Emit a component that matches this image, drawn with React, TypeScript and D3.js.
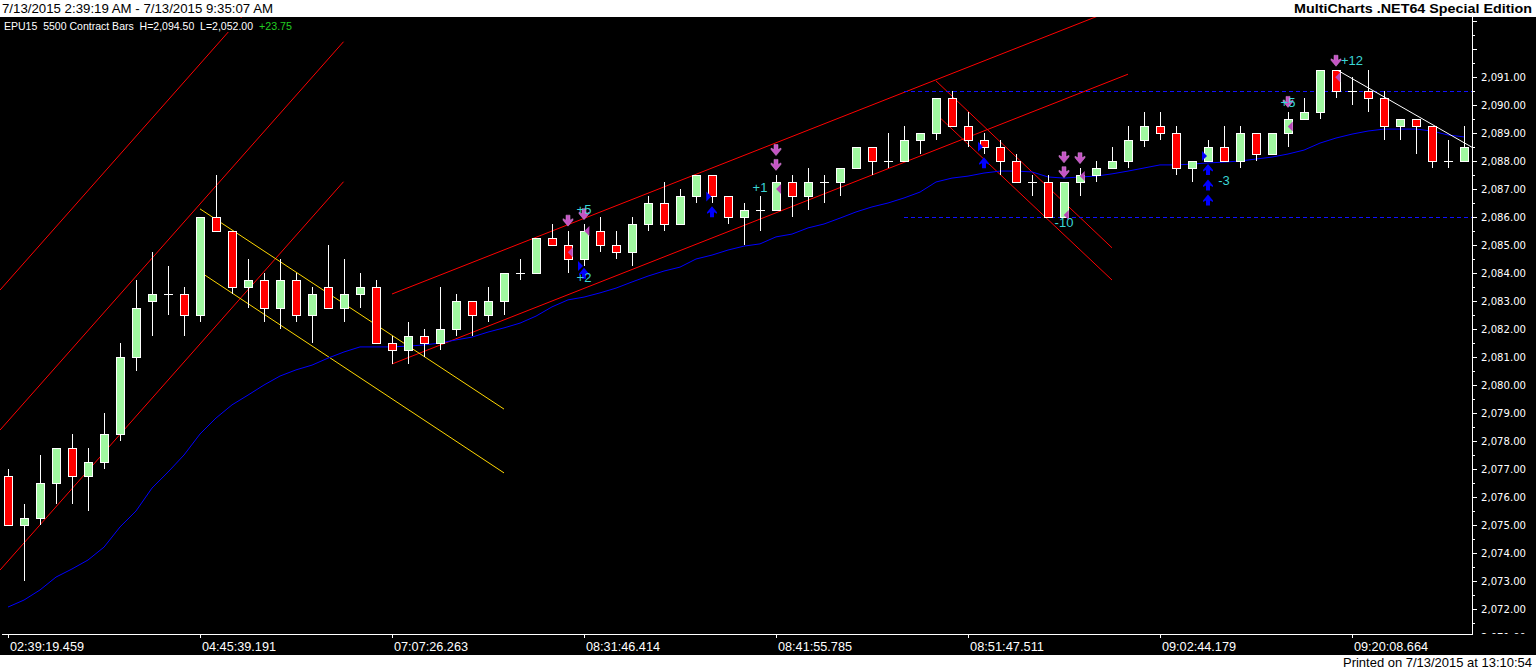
import React from "react";
import * as d3 from "d3";

// ---- data ----
const opens = [2076.75,2075.0,2075.25,2076.5,2077.75,2076.75,2077.25,2078.25,2081.0,2083.0,2083.25,2083.25,2082.5,2086.0,2085.5,2083.5,2083.75,2082.75,2083.75,2082.5,2083.5,2082.75,2083.25,2083.5,2081.5,2081.25,2081.75,2081.5,2082.0,2083.0,2082.5,2083.0,2084.0,2084.0,2085.25,2085.0,2084.5,2085.5,2085.0,2084.75,2085.75,2086.5,2085.75,2086.75,2087.5,2086.75,2086.0,2086.25,2086.25,2087.25,2086.75,2087.25,2087.25,2087.75,2088.5,2088.0,2088.0,2088.75,2089.0,2090.25,2089.25,2088.75,2088.5,2088.0,2087.25,2087.25,2086.0,2087.25,2087.5,2087.75,2088.0,2088.75,2089.25,2089.0,2087.75,2088.0,2088.5,2088.0,2089.0,2088.25,2089.0,2089.5,2089.75,2091.25,2090.5,2090.5,2090.25,2089.25,2089.5,2089.25,2088.0,2088.0];
const highs = [2077.0,2075.75,2077.5,2077.75,2078.25,2077.75,2079.0,2081.5,2083.75,2084.75,2084.25,2083.5,2086.0,2087.5,2085.5,2084.5,2084.0,2084.5,2084.0,2083.5,2085.0,2084.5,2084.0,2083.75,2081.75,2082.25,2082.0,2083.5,2083.25,2083.0,2083.5,2084.0,2084.5,2085.25,2085.75,2085.5,2085.75,2086.0,2085.5,2086.0,2086.75,2087.25,2087.0,2087.5,2087.5,2086.75,2086.5,2086.75,2087.5,2087.5,2087.75,2087.5,2087.75,2088.5,2088.5,2089.0,2089.25,2089.0,2090.25,2090.5,2089.75,2089.0,2088.75,2088.25,2087.5,2087.5,2087.25,2087.75,2088.0,2088.5,2089.25,2089.75,2089.75,2089.25,2088.0,2088.75,2089.25,2089.25,2089.0,2089.0,2089.75,2090.25,2091.25,2091.25,2091.0,2091.25,2090.5,2089.5,2089.5,2089.25,2088.75,2089.25];
const lows = [2075.0,2073.0,2075.0,2075.75,2075.75,2075.5,2077.0,2078.0,2080.5,2081.75,2082.5,2081.75,2082.25,2085.5,2083.25,2082.75,2082.25,2082.0,2082.25,2081.5,2082.75,2082.25,2082.75,2081.5,2080.75,2080.75,2081.0,2081.25,2081.75,2081.75,2082.25,2082.5,2083.75,2084.0,2085.0,2084.0,2084.25,2084.75,2084.5,2084.25,2085.5,2085.5,2085.75,2086.5,2086.5,2085.75,2085.0,2085.5,2086.25,2086.0,2086.25,2086.5,2086.75,2087.75,2087.5,2087.75,2088.0,2088.25,2088.75,2089.25,2088.5,2088.25,2087.5,2087.25,2086.75,2086.0,2086.0,2086.75,2087.25,2087.75,2087.75,2088.5,2088.75,2087.5,2087.25,2088.0,2088.0,2087.75,2088.0,2088.25,2088.5,2089.5,2089.5,2090.25,2090.0,2089.75,2088.75,2088.75,2088.25,2087.75,2087.75,2088.0];
const closes = [2075.0,2075.25,2076.5,2077.75,2076.75,2077.25,2078.25,2081.0,2082.75,2083.25,2083.25,2082.5,2086.0,2085.5,2083.5,2083.75,2082.75,2083.75,2082.5,2083.25,2082.75,2083.25,2083.5,2081.5,2081.25,2081.75,2081.5,2082.0,2083.0,2082.5,2083.0,2084.0,2084.0,2085.25,2085.0,2084.5,2085.5,2085.0,2084.75,2085.75,2086.5,2085.75,2086.75,2087.5,2086.75,2086.0,2086.25,2086.25,2087.25,2086.75,2087.25,2087.25,2087.75,2088.5,2088.0,2088.0,2088.75,2089.0,2090.25,2089.25,2088.75,2088.5,2088.0,2087.25,2087.25,2086.0,2087.25,2087.5,2087.75,2088.0,2088.75,2089.25,2089.0,2087.75,2088.0,2088.5,2088.0,2089.0,2088.25,2089.0,2089.5,2089.75,2091.25,2090.5,2090.5,2090.25,2089.25,2089.5,2089.25,2088.0,2088.0,2088.5];
const movingAvg = [2072.07,2072.32,2072.68,2073.14,2073.43,2073.75,2074.21,2074.93,2075.5,2076.32,2076.89,2077.5,2078.25,2078.82,2079.29,2079.64,2080.0,2080.32,2080.54,2080.71,2080.96,2081.18,2081.36,2081.36,2081.36,2081.39,2081.43,2081.5,2081.61,2081.71,2081.89,2082.04,2082.21,2082.46,2082.79,2083.04,2083.14,2083.29,2083.46,2083.68,2083.89,2084.07,2084.21,2084.5,2084.64,2084.82,2084.96,2085.04,2085.29,2085.39,2085.61,2085.75,2085.96,2086.18,2086.36,2086.5,2086.68,2086.89,2087.25,2087.39,2087.46,2087.57,2087.64,2087.64,2087.61,2087.43,2087.39,2087.43,2087.46,2087.54,2087.64,2087.75,2087.86,2087.86,2087.89,2087.93,2087.96,2088.0,2088.07,2088.14,2088.25,2088.39,2088.64,2088.82,2088.96,2089.07,2089.14,2089.14,2089.14,2089.07,2088.93,2088.86];

const timeLabels = ["02:39:19.459","04:45:39.191","07:07:26.263","08:31:46.414","08:41:55.785","08:51:47.511","09:02:44.179","09:20:08.664"];
const timeLabelBars = [0,12,24,36,48,60,72,84];
const priceLabels = d3.range(2071, 2092, 1);

// trend lines: [barStart, priceStart, barEnd, priceEnd]
const redLines: number[][] = [
  [-0.5, 2083.39, 20.97, 2097.26],
  [-0.5, 2078.39, 20.97, 2092.26],
  [-0.5, 2073.39, 20.97, 2087.26],
  [24, 2083.25, 70, 2093.6],
  [24, 2080.75, 70, 2091.1],
  [58, 2090.86, 69, 2084.9],
  [58, 2089.68, 69, 2083.75],
];
const yellowLines: number[][] = [
  [12, 2086.29, 31, 2079.14],
  [12, 2084.04, 31, 2076.86],
];
const whiteLines: number[][] = [[83.13, 2091.23, 91.5, 2088.49]];
const dashedLevels = [2090.5, 2086.0];
const dashedStartBar = 56;

// markers
const sellArrows: number[][] = [[35, 2085.87],[36, 2086.1],[48, 2088.39],[48, 2087.86],[66, 2088.13],[66, 2087.6],[67, 2088.1],[83, 2091.58],[80, 2090.11]];
const buyArrows: number[][] = [[36, 2083.99],[44, 2086.19],[61, 2087.94],[75, 2087.7],[75, 2087.14],[75, 2086.61]];
const exitMarks: number[][] = [[36.21, 2085.5],[35.17, 2084.74],[48.19, 2087.0],[67.17, 2087.46],[66.17, 2086.07],[83.14, 2090.99],[80.17, 2089.23]];
const entryMarks: number[][] = [[35.75, 2084.25],[43.77, 2086.73],[60.75, 2088.51],[74.75, 2088.18]];
const profitTexts = ["+5","+2","+1","-10","+12","+5","-3"];
const profitBars = [36, 36, 47, 66, 84, 80, 76];
const profitPrices = [2086.29, 2083.83, 2087.06, 2085.8, 2091.6, 2090.1, 2087.3];

const W = 1536, H = 670;
const PLOT_R = 1472, PLOT_T = 17, PLOT_B = 634;

export default function App() {
  const x = d3.scaleLinear().domain([0, 91]).range([8, 1464]);
  const y = d3.scaleLinear().domain([2071, 2091]).range([637, 77]);
  const maLine = d3.line<number>().x((_, i) => x(i)).y((d) => y(d));
  const ticks = d3.range(2071, 2093.01, 0.5);

  const seg = (l: number[], color: string, key: string) => (
    <line key={key} x1={x(l[0])} y1={y(l[1])} x2={x(l[2])} y2={y(l[3])} stroke={color} strokeWidth={1} />
  );
  // chunky arrows: shaft 4px, head 10px with notched back
  const down = (cx: number, cy: number) =>
    `M${cx - 2},${cy - 5.5}h4v5l3,-1.5v1.5l-5,6l-5,-6v-1.5l3,1.5z`;
  const up = (cx: number, cy: number) =>
    `M${cx - 2},${cy + 5.5}h4v-5l3,1.5v-1.5l-5,-6l-5,6v1.5l3,-1.5z`;

  return (
    <svg width={W} height={H} style={{ position: "absolute", left: 0, top: 0, display: "block", background: "#fff" }}>
      <defs>
        <clipPath id="plot"><rect x={0} y={PLOT_T} width={PLOT_R} height={PLOT_B - PLOT_T} /></clipPath>
        <clipPath id="ylab"><rect x={PLOT_R} y={PLOT_T} width={W - PLOT_R} height={PLOT_B - PLOT_T} /></clipPath>
      </defs>
      <rect x={0} y={0} width={W} height={H} fill="#fff" />
      <rect x={0} y={PLOT_T} width={W} height={655 - PLOT_T} fill="#000" />

      {/* header */}
      <text x={2} y={13} fontFamily="Liberation Sans, Arial, sans-serif" fontSize={13} fill="#000" textLength={271} lengthAdjust="spacingAndGlyphs">7/13/2015 2:39:19 AM - 7/13/2015 9:35:07 AM</text>
      <text x={1532} y={13} textAnchor="end" fontFamily="Liberation Sans, Arial, sans-serif" fontSize={13} fontWeight="bold" fill="#000" textLength={238} lengthAdjust="spacingAndGlyphs">MultiCharts .NET64 Special Edition</text>

      <g clipPath="url(#plot)">
        {redLines.map((l, i) => seg(l, "#ff0000", "r" + i))}
        {yellowLines.map((l, i) => seg(l, "#ffd700", "y" + i))}
        {dashedLevels.map((p, i) => (
          <line key={"d" + i} x1={x(dashedStartBar)} x2={PLOT_R} y1={Math.round(y(p)) + 0.5} y2={Math.round(y(p)) + 0.5} stroke="#1010ff" strokeWidth={1} strokeDasharray="4,3" shapeRendering="crispEdges" />
        ))}
        <path d={maLine(movingAvg) || ""} fill="none" stroke="#0000ff" strokeWidth={1} />
        {opens.map((o, i) => {
          const c = closes[i];
          const cx = Math.round(x(i)) + 0.5;
          const top = y(Math.max(o, c));
          const bot = y(Math.min(o, c));
          return (
            <g key={"c" + i} shapeRendering="crispEdges">
              <line x1={cx} x2={cx} y1={y(highs[i])} y2={y(lows[i])} stroke="#fff" strokeWidth={1} />
              {o === c ? (
                <line x1={cx - 4.5} x2={cx + 4.5} y1={top} y2={top} stroke="#fff" strokeWidth={1} />
              ) : (
                <rect x={cx - 4} y={top} width={8} height={bot - top} fill={c > o ? "#a0f8a0" : "#ff0000"} stroke="#fff" strokeWidth={1} />
              )}
            </g>
          );
        })}
        {whiteLines.map((l, i) => seg(l, "#ffffff", "w" + i))}
        {entryMarks.map((m, i) => {
          const cx = x(m[0]), cy = y(m[1]);
          return <path key={"en" + i} d={`M${cx + 3},${cy}L${cx - 2},${cy - 5}L${cx - 2},${cy + 5}Z`} fill="#0000ff" />;
        })}
        {exitMarks.map((m, i) => {
          const cx = x(m[0]), cy = y(m[1]);
          return <path key={"ex" + i} d={`M${cx - 3},${cy}L${cx + 2},${cy - 5}L${cx + 2},${cy + 5}Z`} fill="#b848b8" />;
        })}
        {sellArrows.map((m, i) => <path key={"s" + i} d={down(x(m[0]), y(m[1]))} fill="#c454c4" stroke="#d890d8" strokeWidth={0.5} />)}
        {buyArrows.map((m, i) => <path key={"b" + i} d={up(x(m[0]), y(m[1]))} fill="#0000ff" />)}
        {profitTexts.map((t, i) => (
          <text key={"p" + i} x={x(profitBars[i])} y={y(profitPrices[i])} dy="0.36em" textAnchor="middle" fontFamily="Liberation Sans, Arial, sans-serif" fontSize={13} fill="#3ad6d6">{t}</text>
        ))}
      </g>

      {/* subtitle */}
      <rect x={0} y={PLOT_T + 1} width={296} height={14} fill="#000" />
      <text x={4} y={30} fontFamily="Liberation Sans, Arial, sans-serif" fontSize={10.5} fill="#fff" style={{ whiteSpace: "pre" }} textLength={249} lengthAdjust="spacingAndGlyphs">EPU15  5500 Contract Bars  H=2,094.50  L=2,052.00</text>
      <text x={259} y={30} fontFamily="Liberation Sans, Arial, sans-serif" fontSize={10.5} fill="#22cc22" textLength={33} lengthAdjust="spacingAndGlyphs">+23.75</text>

      {/* y axis */}
      <line x1={PLOT_R + 0.5} x2={PLOT_R + 0.5} y1={PLOT_T} y2={PLOT_B} stroke="#fff" strokeWidth={1} />
      <g clipPath="url(#ylab)">
        {ticks.map((t, i) => (
          <line key={"yt" + i} x1={PLOT_R} x2={PLOT_R + (t % 1 === 0 ? 5 : 3)} y1={Math.round(y(t)) + 0.5} y2={Math.round(y(t)) + 0.5} stroke="#fff" strokeWidth={1} />
        ))}
        {priceLabels.map((p) => (
          <text key={"yl" + p} x={1481} y={y(p)} dy="0.36em" fontFamily="DejaVu Sans, Verdana, sans-serif" fontSize={11} fill="#fff" textLength={45} lengthAdjust="spacingAndGlyphs">{d3.format(",.2f")(p)}</text>
        ))}
      </g>

      {/* x axis */}
      <line x1={2} x2={PLOT_R + 1} y1={PLOT_B + 0.5} y2={PLOT_B + 0.5} stroke="#fff" strokeWidth={1} />
      {timeLabelBars.map((b, i) => (
        <g key={"xt" + i}>
          <line x1={x(b) + 0.5} x2={x(b) + 0.5} y1={PLOT_B} y2={PLOT_B + 4} stroke="#fff" strokeWidth={1} />
          <text x={x(b) + 2} y={651} fontFamily="Liberation Sans Narrow, Liberation Sans, Arial, sans-serif" fontSize={13.5} fill="#fff" textLength={74} lengthAdjust="spacingAndGlyphs">{timeLabels[i]}</text>
        </g>
      ))}

      {/* footer */}
      <text x={1532} y={667} textAnchor="end" fontFamily="Liberation Sans Narrow, Liberation Sans, Arial, sans-serif" fontSize={13} fill="#000" textLength={189} lengthAdjust="spacingAndGlyphs">Printed on 7/13/2015 at 13:10:54</text>
    </svg>
  );
}
